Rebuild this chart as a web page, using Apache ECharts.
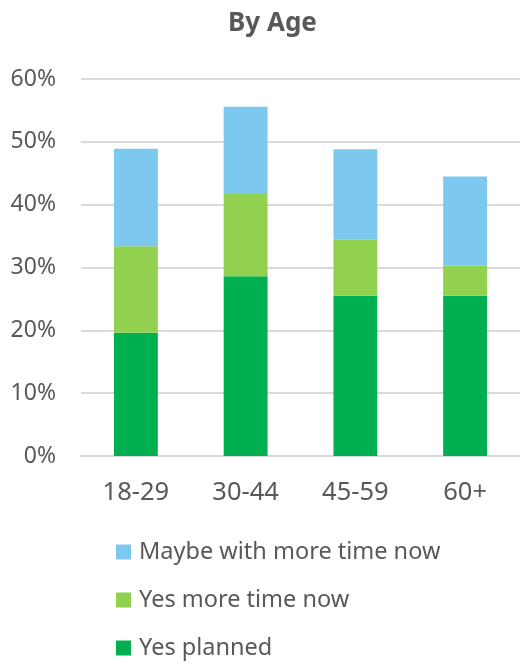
<!DOCTYPE html>
<html>
<head>
<meta charset="utf-8">
<script src="https://cdn.jsdelivr.net/npm/echarts@6/dist/echarts.min.js"></script>
<style>html,body{margin:0;padding:0;background:#fff}#c{width:520px;height:664px}</style>
</head>
<body>
<div id="c"></div>
<script>
const categories = ['18-29', '30-44', '45-59', '60+'];
const yesPlanned = [19.6, 28.6, 25.5, 25.5];
const yesMoreTime = [13.8, 13.1, 8.9, 4.8];
const maybeMoreTime = [15.5, 13.9, 14.4, 14.2];
const seriesNames = ['Yes planned', 'Yes more time now', 'Maybe with more time now'];
const legendOrder = ['Maybe with more time now', 'Yes more time now', 'Yes planned'];
const colors = ['#00B050', '#92D050', '#7DC8EE'];

const FONT = 'Noto Sans';
const TXT = '#595959';
const chart = echarts.init(document.getElementById('c'), null, {renderer: 'canvas'});
const mk = (name, data, color) => ({
  name, type: 'bar', stack: 'a', data, barWidth: '40%',
  itemStyle: {color}, emphasis: {disabled: true}
});
chart.setOption({
  animation: false,
  title: {
    text: 'By Age', left: 223, top: 6,
    textStyle: {fontFamily: FONT, fontWeight: 'bold', fontSize: 26, color: TXT}
  },
  grid: {left: 81, right: 0, top: 79, bottom: 208, containLabel: false},
  legend: {
    orient: 'vertical', left: 116, top: 539, padding: 0,
    data: legendOrder, icon: 'rect', itemWidth: 15, itemHeight: 15, itemGap: 22,
    textStyle: {fontFamily: FONT, fontSize: 23.5, color: TXT, lineHeight: 26, padding: [0, 0, 0, 3]}
  },
  xAxis: {
    type: 'category', data: categories,
    axisLine: {lineStyle: {color: '#D9D9D9', width: 2}},
    axisTick: {show: false},
    axisLabel: {fontFamily: FONT, fontSize: 25.5, color: TXT, margin: 24}
  },
  yAxis: {
    type: 'value', min: 0, max: 60, interval: 10,
    axisLine: {show: false}, axisTick: {show: false},
    splitLine: {lineStyle: {color: '#D9D9D9', width: 2}},
    axisLabel: {fontFamily: FONT, fontSize: 23, color: TXT, margin: 25, formatter: '{value}%'}
  },
  series: [
    mk(seriesNames[0], yesPlanned, colors[0]),
    mk(seriesNames[1], yesMoreTime, colors[1]),
    mk(seriesNames[2], maybeMoreTime, colors[2])
  ]
});
</script>
</body>
</html>
